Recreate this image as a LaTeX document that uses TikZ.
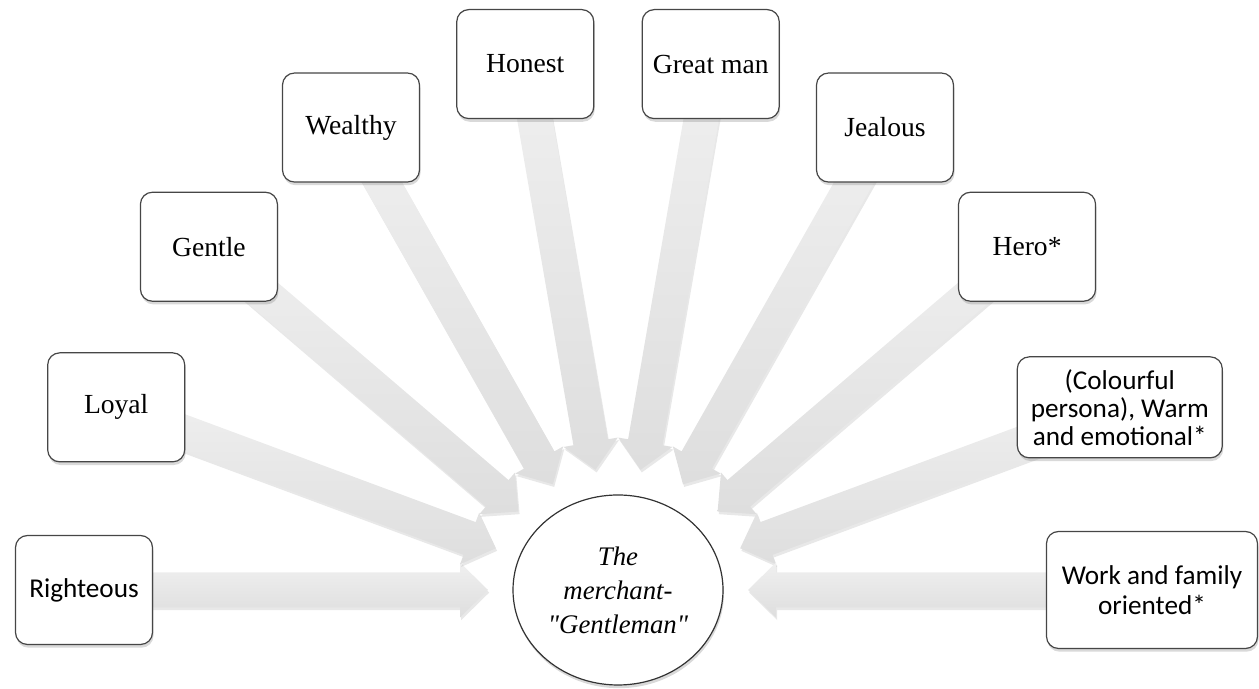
\documentclass[tikz,border=0pt]{standalone}
\usepackage{fontspec}
\setmainfont{Liberation Serif}
\newfontfamily\calibrifont{Carlito}
\newfontfamily\hubfont{Liberation Serif}[Ligatures=TeXOff]
\usetikzlibrary{calc,shapes.geometric,shadows,backgrounds}

\tikzset{
	trait/.style={draw=gray!55!black, line width=0.6pt, fill=white, rounded corners=6pt,
		minimum width=68.5pt, minimum height=54.5pt, inner sep=2pt, align=center,
		font=\fontsize{13.8pt}{16pt}\selectfont,
		drop shadow={shadow xshift=0.5pt, shadow yshift=-1.6pt, opacity=0.3}},
	sanstrait/.style={trait, font=\calibrifont\fontsize{13.6pt}{14pt}\selectfont},
	hub/.style={ellipse, draw=gray!40!black, line width=0.6pt, fill=white,
		minimum width=105pt, minimum height=95pt, inner sep=1pt, align=center,
		font=\hubfont\itshape\fontsize{13.4pt}{17pt}\selectfont,
		drop shadow={shadow xshift=0.5pt, shadow yshift=-1.6pt, opacity=0.3}},
	blockarrow/.style={top color=gray!12, bottom color=gray!26,
		drop shadow={shadow xshift=0.6pt, shadow yshift=-1.3pt, opacity=0.18},
		to path={
			($(\tikztostart.center)!8.75pt!90:(\tikztotarget)$)
			-- ($(\tikztotarget)!14pt!(\tikztostart.center)!8.75pt!90:(\tikztotarget)$)
			-- ($(\tikztotarget)!14pt!(\tikztostart.center)!13.75pt!90:(\tikztotarget)$)
			-- (\tikztotarget)
			-- ($(\tikztotarget)!14pt!(\tikztostart.center)!13.75pt!-90:(\tikztotarget)$)
			-- ($(\tikztotarget)!14pt!(\tikztostart.center)!8.75pt!-90:(\tikztotarget)$)
			-- ($(\tikztostart.center)!8.75pt!-90:(\tikztotarget)$) -- cycle}}
}

\begin{document}
\begin{tikzpicture}
	\useasboundingbox (0,0) rectangle (629.5pt,344.5pt);
	\coordinate (c) at (309pt,49.5pt);

	\node [hub] (MG) at (c) {The\\merchant-\\"Gentleman"};

	\node [sanstrait] (RI) at ($(c)+(180:267pt)$) {Righteous};
	\node [trait] (LO) at ($(c)+(160:267pt)$) {Loyal};
	\node [trait] (GE) at ($(c)+(140:267pt)$) {Gentle};
	\node [trait] (WE) at ($(c)+(120:267pt)$) {Wealthy};
	\node [trait] (HO) at ($(c)+(100:267pt)$) {Honest};
	\node [trait] (GM) at ($(c)+(80:267pt)$) {Great man};
	\node [trait] (JE) at ($(c)+(60:267pt)$) {Jealous};
	\node [trait] (HE) at ($(c)+(40:267pt)$) {Hero*};
	\node [sanstrait, minimum width=102.5pt, minimum height=50.5pt] (CO) at ($(c)+(20:267pt)$) {(Colourful\\persona), Warm\\and emotional*};
	\node [sanstrait, minimum width=105.5pt, minimum height=58.5pt, font=\calibrifont\fontsize{13.6pt}{15pt}\selectfont] (WF) at ($(c)+(0:267pt)$) {Work and family\\oriented*};

	% arrow tips round the hub
	\coordinate (TA) at ($(c)+(180:65pt and 61pt)$);
	\coordinate (TB) at ($(c)+(160:65pt and 61pt)$);
	\coordinate (TC) at ($(c)+(140:65pt and 61pt)$);
	\coordinate (TD) at ($(c)+(120:65pt and 61pt)$);
	\coordinate (TE) at ($(c)+(100:65pt and 61pt)$);
	\coordinate (TF) at ($(c)+(80:65pt and 61pt)$);
	\coordinate (TG) at ($(c)+(60:65pt and 61pt)$);
	\coordinate (TH) at ($(c)+(40:65pt and 61pt)$);
	\coordinate (TI) at ($(c)+(20:65pt and 61pt)$);
	\coordinate (TJ) at ($(c)+(0:65pt and 61pt)$);

	\begin{scope}[on background layer]
		\path [blockarrow] (RI) to (TA);
		\path [blockarrow] (LO) to (TB);
		\path [blockarrow] (GE) to (TC);
		\path [blockarrow] (WE) to (TD);
		\path [blockarrow] (HO) to (TE);
		\path [blockarrow] (GM) to (TF);
		\path [blockarrow] (JE) to (TG);
		\path [blockarrow] (HE) to (TH);
		\path [blockarrow] (CO) to (TI);
		\path [blockarrow] (WF) to (TJ);
	\end{scope}
\end{tikzpicture}
\end{document}
